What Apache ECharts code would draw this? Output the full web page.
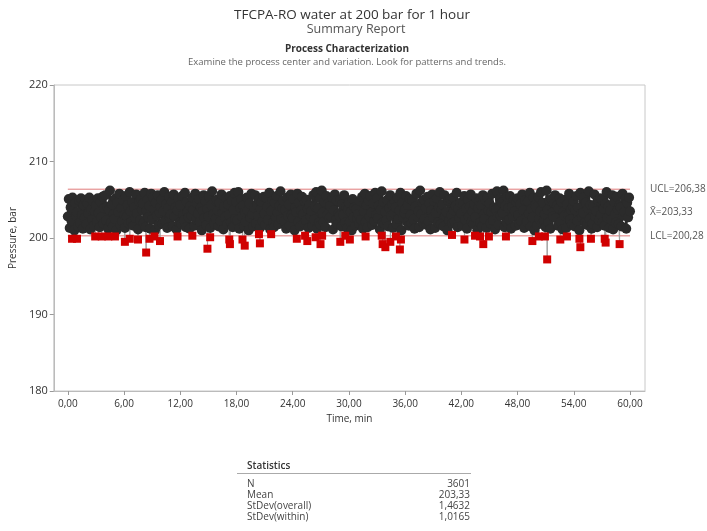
<!DOCTYPE html>
<html><head><meta charset="utf-8">
<script src="https://cdn.jsdelivr.net/npm/echarts@6/dist/echarts.min.js"></script>
<style>html,body{margin:0;padding:0;background:#fff}#c{width:707px;height:531px}</style>
</head><body><div id="c"></div>
<script>
// Individual pressure readings (bar), read as one value every 0.1 min from 0 to 60 min
const pressure = [
202.8,205.1,201.3,204.0,202.2,205.3,203.6,201.0,204.6,202.9,
203.4,201.5,204.9,202.0,205.2,203.0,201.2,204.3,202.6,205.0,
201.8,204.5,203.2,205.3,201.1,203.8,202.4,204.8,201.6,203.5,
204.2,202.1,205.2,203.3,201.4,204.7,202.7,205.4,201.9,203.9,
205.6,202.3,204.1,201.2,203.7,206.2,202.0,204.4,201.5,203.1,
202.5,205.2,201.0,204.6,203.4,205.8,201.7,203.9,202.2,204.9,
203.0,201.3,205.5,202.8,204.3,201.9,206.0,203.5,202.1,204.7,
201.6,204.0,202.6,205.7,203.2,201.1,204.8,202.3,205.1,203.7,
204.5,202.0,205.9,201.4,203.6,205.0,202.7,204.2,201.2,205.8,
202.4,205.3,203.8,201.0,204.6,202.9,205.6,201.7,203.3,204.1,
205.0,201.9,203.5,206.0,202.2,204.4,201.3,203.9,205.4,202.6,
203.1,204.8,201.5,205.7,202.8,204.0,201.1,203.6,205.2,202.0,
204.3,201.8,205.5,203.0,202.3,205.9,201.4,204.7,203.4,202.7,
201.2,204.2,202.9,205.3,203.7,201.6,205.8,202.4,204.5,203.2,
205.1,202.1,204.0,201.0,203.5,205.6,202.6,204.8,201.7,203.8,
202.8,205.4,201.3,204.3,206.1,203.1,201.9,204.9,202.5,205.0,
203.6,201.5,204.6,202.2,205.7,203.3,201.1,204.1,202.7,205.2,
201.8,204.4,203.0,205.5,202.0,204.9,201.4,203.7,205.9,202.5,
204.7,202.3,206.0,201.2,203.9,205.1,202.8,204.2,201.6,203.4,
202.1,205.3,203.6,201.0,204.5,202.6,205.8,203.1,201.5,204.0,
205.6,201.9,204.3,202.9,205.0,201.3,203.8,204.7,202.2,205.4,
203.2,201.7,205.2,204.1,202.4,205.9,201.1,203.5,204.8,202.0,
201.4,204.6,202.7,205.5,203.3,201.8,204.2,206.1,202.5,203.9,
204.9,202.2,203.7,201.2,205.3,202.9,204.4,201.6,205.7,203.0,
202.6,205.1,201.0,204.0,203.4,205.8,202.1,204.6,201.5,203.6,
205.4,203.1,201.9,204.8,202.3,205.0,203.8,201.3,204.3,202.8,
203.5,201.6,205.6,202.4,204.1,206.0,201.2,203.9,202.0,205.2,
201.7,206.2,203.3,202.1,204.7,201.4,205.5,203.0,204.5,202.6,
204.2,202.8,205.3,201.1,203.6,205.7,202.3,204.9,201.8,203.2,
202.9,205.0,201.5,204.4,203.0,205.6,202.0,204.1,201.3,203.7,
204.6,202.2,203.4,201.0,205.1,202.7,204.0,201.6,203.8,202.5,
203.1,201.9,204.8,202.4,205.4,201.2,203.5,205.8,202.1,204.3,
201.4,204.9,202.8,205.5,203.3,201.7,204.5,202.2,205.9,203.0,
205.2,202.6,204.2,201.1,203.7,206.1,202.0,204.7,201.8,203.4,
202.3,205.0,201.5,203.9,205.6,202.9,204.4,201.3,203.2,204.8,
204.0,201.8,205.3,202.5,203.6,205.9,201.0,204.6,202.7,203.3,
203.8,205.5,202.1,204.3,201.6,205.1,203.0,201.9,204.9,202.4,
201.2,204.1,205.8,202.8,203.5,201.4,206.2,203.1,204.7,202.0,
205.0,202.5,203.9,201.7,205.4,202.2,204.5,201.1,203.6,205.7,
202.7,204.8,201.3,203.3,205.2,202.0,204.0,206.0,201.8,203.7,
204.4,201.5,205.6,202.9,203.4,201.0,204.9,202.3,205.1,203.0,
201.9,205.3,203.6,202.1,204.2,205.9,201.4,203.8,202.6,204.6,
203.2,201.6,204.7,205.5,202.4,203.9,201.2,205.0,202.8,204.1,
205.7,202.2,203.5,201.8,204.4,202.7,205.2,201.0,203.9,204.8,
202.0,204.3,201.5,205.6,203.1,202.5,204.9,201.3,205.3,203.6,
204.5,201.9,203.4,205.8,202.3,204.0,201.1,203.7,206.1,202.8,
201.7,205.1,202.9,204.6,203.3,206.2,201.4,204.2,202.1,205.4,
203.9,202.4,205.5,201.2,204.1,202.8,205.0,203.5,201.6,204.7,
205.2,203.0,201.8,204.4,202.2,205.7,203.6,201.3,204.9,202.6,
202.1,204.8,203.2,205.9,201.5,203.8,202.7,205.3,201.0,204.3,
204.0,201.7,205.4,202.5,203.5,206.0,201.9,204.6,202.3,203.1,
201.4,206.2,203.7,202.0,204.9,201.2,205.1,203.3,202.8,204.5,
205.6,202.6,204.2,201.6,203.9,205.2,202.1,204.7,201.1,203.4,
202.9,205.0,201.3,204.4,203.0,205.8,202.4,203.7,201.8,204.1,
204.8,201.5,203.6,205.5,202.2,204.0,201.0,205.9,203.2,202.7,
203.3,205.3,202.0,204.6,201.7,203.9,206.1,202.5,204.3,201.2,
201.9,204.2,205.7,202.8,203.5,201.4,204.9,202.3,205.2,203.0,
205.0,202.1,203.8,201.6,204.5,206.0,202.6,204.1,201.3,203.6,
202.4,205.6,201.1,204.7,203.1,202.0,205.4,203.7,201.8,204.3,
204.0,201.5,205.8,202.9,203.4,205.1,201.2,204.6,202.7,205.3,
203.5
];
const sampleStep = 0.1; // minutes between listed readings

// Points flagged by the control-chart tests (red squares)
const flagTime  = [0.45,0.98,2.92,3.62,4.32,5.03,6.09,6.61,7.49,8.36,8.72,9.25,9.84,11.71,13.29,14.9,15.19,17.23,17.3,18.64,18.88,20.4,20.5,21.7,24.44,25.32,25.56,26.45,26.97,27.14,29.08,29.61,30.1,31.78,33.5,33.6,33.89,34.42,35.02,35.44,35.55,41.0,42.33,43.46,43.99,44.34,44.94,46.76,49.58,50.28,50.92,51.16,52.56,53.27,54.6,54.7,55.83,57.3,57.4,58.89];
const flagValue = [199.9,199.9,200.2,200.2,200.2,200.2,199.5,199.9,199.8,198.1,199.9,200.2,199.6,200.2,200.3,198.6,200.1,199.8,199.2,199.8,199.0,200.5,199.3,200.5,199.9,200.3,199.6,200.1,199.2,200.3,199.5,200.3,199.8,200.2,200.3,199.2,198.8,199.5,200.2,198.5,199.8,200.4,199.8,200.3,200.2,199.2,200.2,200.2,199.6,200.2,200.2,197.2,199.8,200.2,199.9,198.8,199.9,199.9,199.4,199.2];

const xTicks = [0,6,12,18,24,30,36,42,48,54,60];
const yTicks = [180,190,200,210,220];
const limitNames  = ['UCL','X\u0304','LCL'];
const limitValues = [206.38,203.33,200.28];
const limitSpan   = [0,60];
const statLabels = ['N','Mean','StDev(overall)','StDev(within)'];
const statValues = ['3601','203,33','1,4632','1,0165'];

const FONT = '"Open Sans", "Noto Sans", sans-serif';
const comma = (v, d) => v.toFixed(d).replace('.', ',');

// merge individual readings with flagged points in time order (for the connecting line)
const pts = pressure.map((v, i) => ({ t: +(i * sampleStep).toFixed(2), v }));
flagTime.forEach((t, i) => pts.push({ t, v: flagValue[i] }));
pts.sort((a, b) => a.t - b.t);
const allData = pts.map(p => [p.t, p.v]);
const blackData = pressure.map((v, i) => [+(i * sampleStep).toFixed(2), v]);
const flagData = flagTime.map((t, i) => [t, flagValue[i]]);

const limitColors = ['#e07a7a', '#5aa05a', '#e07a7a'];
const limitSeries = limitValues.map((lv, i) => ({
  type: 'line', z: 1, silent: true, symbol: 'none', animation: false,
  data: [[limitSpan[0], lv], [limitSpan[1], lv]],
  lineStyle: { color: limitColors[i], width: 1 },
  endLabel: { show: true, formatter: limitNames[i] + '=' + comma(lv, 2), distance: 20,
    color: '#555', fontSize: 10, fontFamily: FONT }
}));

const g = [];
const titles = [
  { text: 'TFCPA-RO water at 200 bar for 1 hour', x: 352, y: 15, size: 13.5, color: '#333', weight: 'normal' },
  { text: 'Summary Report', x: 356, y: 29, size: 12.5, color: '#555', weight: 'normal' },
  { text: 'Process Characterization', x: 347, y: 49, size: 10, color: '#333', weight: 'bold' },
  { text: 'Examine the process center and variation. Look for patterns and trends.', x: 347, y: 62, size: 9.5, color: '#666', weight: 'normal' }
];
titles.forEach(t => g.push({ type: 'text', x: t.x, y: t.y, silent: true,
  style: { text: t.text, fontSize: t.size, fontWeight: t.weight, fontFamily: FONT, fill: t.color,
    align: 'center', verticalAlign: 'middle', textAlign: 'center', textVerticalAlign: 'middle' } }));
g.push({ type: 'text', x: 247, y: 466, silent: true,
  style: { text: 'Statistics', fontSize: 10, fontWeight: 600, fontFamily: FONT, fill: '#333',
    align: 'left', verticalAlign: 'middle', textAlign: 'left', textVerticalAlign: 'middle' } });
g.push({ type: 'line', silent: true, shape: { x1: 237, y1: 473.5, x2: 471, y2: 473.5 }, style: { stroke: '#aaa', lineWidth: 1 } });
statLabels.forEach((s, i) => {
  const y = 484 + i * 11;
  g.push({ type: 'text', x: 247, y, silent: true, style: { text: s, fontSize: 10, fontFamily: FONT, fill: '#444',
    align: 'left', verticalAlign: 'middle', textAlign: 'left', textVerticalAlign: 'middle' } });
  g.push({ type: 'text', x: 470, y, silent: true, style: { text: statValues[i], fontSize: 10, fontFamily: FONT, fill: '#444',
    align: 'right', verticalAlign: 'middle', textAlign: 'right', textVerticalAlign: 'middle' } });
});

const chart = echarts.init(document.getElementById('c'), null, { renderer: 'canvas' });
chart.setOption({
  animation: false,
  backgroundColor: '#fff',
  textStyle: { fontFamily: FONT },
  grid: { left: 48, right: 62, top: 85, bottom: 140, show: true, borderColor: '#c8c8c8', borderWidth: 1 },
  xAxis: {
    type: 'value', min: -1.5, max: 61.6,
    axisLine: { show: true, onZero: false, lineStyle: { color: '#bbb' } },
    axisTick: { show: true, customValues: xTicks, length: 4, lineStyle: { color: '#999' } },
    axisLabel: { customValues: xTicks, formatter: v => comma(v, 2), fontSize: 10, color: '#333', margin: 8, fontFamily: FONT },
    splitLine: { show: false },
    name: 'Time, min', nameLocation: 'middle', nameGap: 22,
    nameTextStyle: { fontSize: 10, color: '#333', fontFamily: FONT }
  },
  yAxis: {
    type: 'value', min: yTicks[0], max: yTicks[yTicks.length - 1], interval: 10,
    axisLine: { show: true, onZero: false, lineStyle: { color: '#bbb' } },
    axisTick: { show: true, length: 4, lineStyle: { color: '#999' } },
    axisLabel: { fontSize: 11, color: '#333', margin: 6, fontFamily: FONT },
    splitLine: { show: false },
    name: 'Pressure, bar', nameLocation: 'middle', nameGap: 30,
    nameTextStyle: { fontSize: 10, color: '#333', fontFamily: FONT }
  },
  series: limitSeries.concat([
    // thin grey connecting line through every reading (visible toward flagged points)
    { type: 'line', z: 2, data: allData, symbol: 'none', lineStyle: { color: '#a0a0a0', width: 1 },
      animation: false, silent: true },
    // dark connecting line between in-control readings
    { type: 'line', z: 3, data: blackData, symbol: 'none', lineStyle: { color: '#2b2b2b', width: 2.5 },
      animation: false, silent: true },
    // individual readings
    { type: 'scatter', z: 4, data: blackData, symbol: 'circle', symbolSize: 10, large: false,
      itemStyle: { color: '#2b2b2b', opacity: 1, borderWidth: 0 }, animation: false, silent: true },
    { type: 'scatter', z: 5, data: flagData, symbol: 'rect', symbolSize: 8,
      itemStyle: { color: '#d00000', opacity: 1, borderWidth: 0 }, animation: false, silent: true }
  ]),
  graphic: g
});
</script>
</body></html>
